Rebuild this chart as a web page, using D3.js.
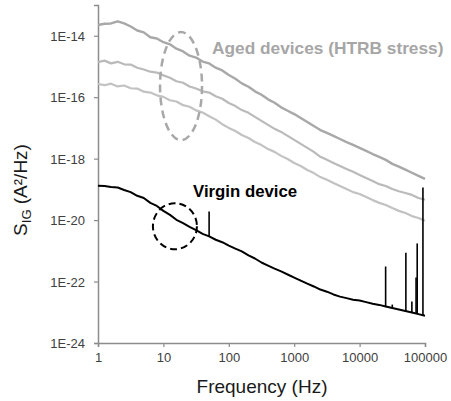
<!doctype html>
<html>
<head>
<meta charset="utf-8">
<script src="https://d3js.org/d3.v7.min.js"></script>
<style>
  body { margin: 0; background: #fff; }
  svg { font-family: Arial, "Liberation Sans", sans-serif; }
</style>
</head>
<body>
<svg width="451" height="401"></svg>
<script>
// frequency grid, Hz
var freqHz = [1, 1.26, 1.58, 2, 2.51, 3.16, 3.98, 5.01, 6.31, 7.94,
  10, 12.6, 15.8, 20, 25.1, 31.6, 39.8, 50.1, 63.1, 79.4,
  100, 126, 158, 200, 251, 316, 398, 501, 631, 794,
  1000, 1259, 1585, 1995, 2512, 3162, 3981, 5012, 6310, 7943,
  10000, 12589, 15849, 19953, 25119, 31623, 39811, 50119, 63096, 79433, 100000];

// log10 of S_IG (A^2/Hz)
var agedHighLog = [-13.65, -13.61, -13.60, -13.53, -13.60, -13.70, -13.83, -13.89, -14.05, -14.09,
  -14.21, -14.28, -14.42, -14.51, -14.65, -14.71, -14.84, -14.90, -15.04, -15.13,
  -15.28, -15.40, -15.55, -15.66, -15.81, -15.92, -16.07, -16.18, -16.33, -16.44,
  -16.55, -16.68, -16.81, -16.94, -17.07, -17.16, -17.26, -17.36, -17.46, -17.55,
  -17.65, -17.75, -17.85, -17.94, -18.04, -18.17, -18.26, -18.36, -18.46, -18.56, -18.66];

var agedMidLog = [-14.86, -14.81, -14.90, -14.85, -14.93, -14.94, -15.04, -15.10, -15.17, -15.20,
  -15.29, -15.37, -15.48, -15.53, -15.65, -15.72, -15.81, -15.85, -15.97, -16.05,
  -16.19, -16.29, -16.42, -16.51, -16.64, -16.77, -16.90, -17.03, -17.13, -17.26,
  -17.39, -17.52, -17.65, -17.78, -17.94, -18.04, -18.14, -18.24, -18.34, -18.43,
  -18.53, -18.63, -18.73, -18.83, -18.89, -18.99, -19.06, -19.12, -19.18, -19.28, -19.34];

var agedLowLog = [-15.57, -15.61, -15.56, -15.65, -15.62, -15.71, -15.72, -15.82, -15.85, -15.94,
  -15.99, -16.10, -16.14, -16.26, -16.31, -16.43, -16.50, -16.62, -16.73, -16.88,
  -17.00, -17.10, -17.23, -17.33, -17.46, -17.56, -17.69, -17.78, -17.91, -18.01,
  -18.14, -18.24, -18.37, -18.47, -18.60, -18.69, -18.79, -18.89, -18.99, -19.09,
  -19.15, -19.25, -19.35, -19.44, -19.51, -19.61, -19.70, -19.77, -19.87, -19.93, -20.02];

var virginLog = [-18.88, -18.89, -18.92, -18.94, -19.02, -19.09, -19.21, -19.28, -19.44, -19.54,
  -19.70, -19.83, -19.99, -20.10, -20.22, -20.33, -20.45, -20.53, -20.64, -20.72,
  -20.83, -20.93, -21.02, -21.15, -21.25, -21.38, -21.48, -21.58, -21.67, -21.77,
  -21.87, -21.97, -22.07, -22.16, -22.26, -22.33, -22.42, -22.49, -22.54, -22.59,
  -22.62, -22.67, -22.72, -22.76, -22.81, -22.86, -22.91, -22.96, -23.01, -23.06, -23.11];

// narrow interference lines on the virgin spectrum
var spikeHz = [50, 25000, 31600, 51000, 63000, 73000, 76000, 93000];
var spikeTopLog = [-19.72, -21.51, -22.75, -21.06, -22.65, -21.87, -20.76, -18.94];
var spikeBaseLog = [-20.53, -22.83, -22.88, -22.96, -23.02, -23.05, -23.06, -23.10];

var yTicks = [1e-24, 1e-22, 1e-20, 1e-18, 1e-16, 1e-14];
var yTickLabels = ["1E-24", "1E-22", "1E-20", "1E-18", "1E-16", "1E-14"];
var xTicks = [1, 10, 100, 1000, 10000, 100000];
var xTickLabels = ["1", "10", "100", "1000", "10000", "100000"];

var svg = d3.select("svg");

var x = d3.scaleLog().domain([1, 1e5]).range([98, 425]);
var y = d3.scaleLog().domain([1e-24, 1e-13]).range([343, 5]);

var axisColor = "#8c8c8c";

// axes
var yAxis = svg.append("g").attr("transform", "translate(98,0)")
  .call(d3.axisLeft(y).tickValues(yTicks).tickSize(4)
    .tickFormat(function(d, i) { return yTickLabels[i]; }));
var xAxis = svg.append("g").attr("transform", "translate(0,343)")
  .call(d3.axisBottom(x).tickValues(xTicks).tickSize(4)
    .tickFormat(function(d, i) { return xTickLabels[i]; }));

[yAxis, xAxis].forEach(function(a) {
  a.select(".domain").attr("stroke", axisColor).attr("stroke-width", 1.5);
  a.selectAll(".tick line").attr("stroke", axisColor).attr("stroke-width", 1.2);
  a.selectAll(".tick text").attr("fill", "#404040")
    .style("font-size", "13px").style("font-family", "Arial, 'Liberation Sans', sans-serif");
});
yAxis.selectAll(".tick text").attr("x", -13).attr("dy", "0.35em");
xAxis.selectAll(".tick text").attr("y", 10);

var line = d3.line()
  .x(function(d) { return x(d[0]); })
  .y(function(d) { return y(Math.pow(10, d[1])); });

function pairs(vals) { return freqHz.map(function(f, i) { return [f, vals[i]]; }); }

var series = [
  { vals: agedLowLog, color: "#c2c2c2", w: 2.2 },
  { vals: agedMidLog, color: "#bababa", w: 2.2 },
  { vals: agedHighLog, color: "#a8a8a8", w: 2.4 },
  { vals: virginLog, color: "#000", w: 2 }
];

svg.append("g").selectAll("path").data(series).enter().append("path")
  .attr("d", function(d) { return line(pairs(d.vals)); })
  .attr("fill", "none")
  .attr("stroke", function(d) { return d.color; })
  .attr("stroke-width", function(d) { return d.w; })
  .attr("stroke-linejoin", "round");

// spikes
svg.append("g").selectAll("line").data(spikeHz).enter().append("line")
  .attr("x1", function(d) { return x(d); })
  .attr("x2", function(d) { return x(d); })
  .attr("y1", function(d, i) { return y(Math.pow(10, spikeBaseLog[i])); })
  .attr("y2", function(d, i) { return y(Math.pow(10, spikeTopLog[i])); })
  .attr("stroke", "#000").attr("stroke-width", 1.6);

// annotation ellipses
svg.append("ellipse")
  .attr("cx", x(18.6)).attr("cy", y(Math.pow(10, -15.64)))
  .attr("rx", 21).attr("ry", 54)
  .attr("fill", "none").attr("stroke", "#a8a8a8")
  .attr("stroke-width", 2.5).attr("stroke-dasharray", "8,5");

svg.append("ellipse")
  .attr("cx", x(15)).attr("cy", y(Math.pow(10, -20.2)))
  .attr("rx", 22).attr("ry", 23)
  .attr("fill", "none").attr("stroke", "#000")
  .attr("stroke-width", 2).attr("stroke-dasharray", "7,4");

// labels
svg.append("text").attr("x", 212).attr("y", 54)
  .text("Aged devices (HTRB stress)")
  .attr("fill", "#a6a6a6").style("font-weight", "bold").style("font-size", "17.3px");

svg.append("text").attr("x", 193).attr("y", 197)
  .text("Virgin device")
  .attr("fill", "#000").style("font-weight", "bold").style("font-size", "16.8px");

svg.append("text").attr("x", 262).attr("y", 393)
  .attr("text-anchor", "middle")
  .attr("fill", "#1a1a1a").style("font-size", "19px")
  .text("Frequency  (Hz)");

var yTitle = svg.append("text")
  .attr("transform", "translate(27,190) rotate(-90)")
  .attr("text-anchor", "middle")
  .attr("fill", "#1a1a1a").style("font-size", "19px");
yTitle.append("tspan").text("S");
yTitle.append("tspan").attr("dy", 4).style("font-size", "13px").text("IG");
yTitle.append("tspan").attr("dy", -4).text(" (A\u00b2/Hz)");
</script>
</body>
</html>
